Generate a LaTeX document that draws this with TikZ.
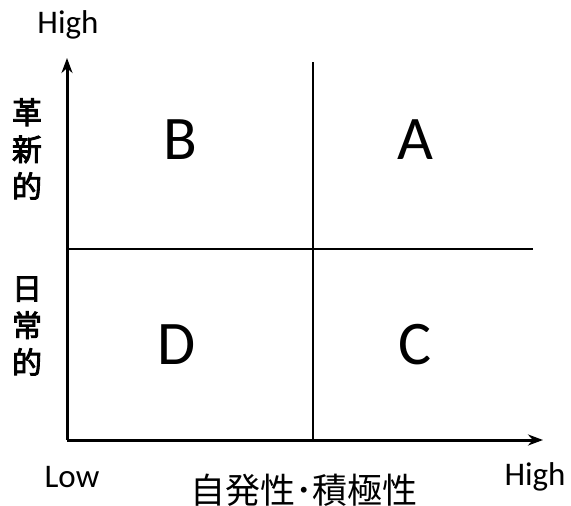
\documentclass[tikz,border=0pt]{standalone}
\usepackage{fontspec}
\setmainfont{Carlito}
\newfontfamily\jafont{Noto Sans CJK JP}
\newfontfamily\jagrueso[FakeBold=3]{Noto Sans CJK JP}
\usetikzlibrary{arrows.meta}
\tikzset{
  every picture/.style={>=Stealth},
  eje/.style={-{Stealth[length=15pt,width=11pt]}, line width=3pt},
  divisor/.style={line width=2.5pt},
  cuadrante/.style={font=\fontsize{62}{62}\selectfont, inner sep=0pt},
  extremo/.style={font=\fontsize{33}{33}\selectfont, inner sep=0pt},
  vertical/.style={font=\jagrueso\fontsize{30}{37}\selectfont, align=center, inner sep=0pt},
  horizontal/.style={font=\jafont\fontsize{35}{35}\selectfont, inner sep=0pt},
}

\begin{document}
\begin{tikzpicture}[x=1pt, y=-1pt]
  \useasboundingbox (0,0) rectangle (571,506);
  % ejes
  \coordinate (O) at (67,440);
  \coordinate (Ytop) at (67,58);
  \coordinate (Xend) at (543,440);
  \coordinate (Vtop) at (313,62);
  \coordinate (Vbot) at (313,440);
  \coordinate (Hizq) at (67,249);
  \coordinate (Hder) at (533,249);
  \draw[eje] (O) -- (Ytop);
  \draw[eje] (O) -- (Xend);
  \draw[divisor] (Vtop) -- (Vbot);
  \draw[divisor] (Hizq) -- (Hder);
  % cuadrantes
  \node[cuadrante] (B) at (180,140) {B};
  \node[cuadrante] (A) at (415,140) {A};
  \node[cuadrante] (D) at (177,345) {D};
  \node[cuadrante] (C) at (415,345) {C};
  % etiquetas
  \node[extremo] (HighY) at (68,25) {High};
  \node[extremo] (Low) at (72,477) {Low};
  \node[extremo] (HighX) at (535,477) {High};
  \node[vertical] (Innov) at (27,149) {革\\新\\的};
  \node[vertical] (Diario) at (27,326) {日\\常\\的};
  \node[horizontal] (Esp) at (304,490) {自発性･積極性};
\end{tikzpicture}
\end{document}
